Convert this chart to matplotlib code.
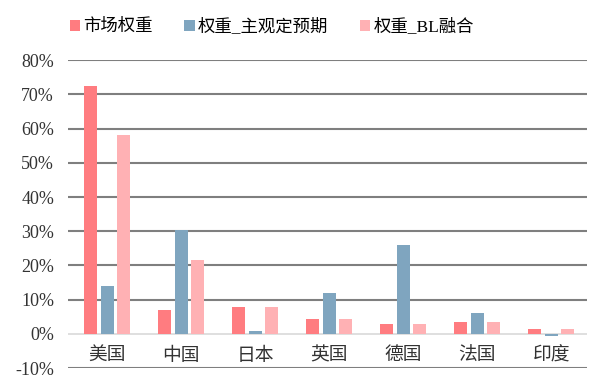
import matplotlib.pyplot as plt
import numpy as np

plt.rcParams['font.family'] = ['Liberation Serif', 'Noto Sans CJK SC']

countries = ['美国', '中国', '日本', '英国', '德国', '法国', '印度']
series_names = ['市场权重', '权重_主观定预期', '权重_BL融合']
market_w = [72.5, 7.0, 8.0, 4.5, 3.0, 3.5, 1.5]
view_w = [14.0, 30.5, 1.0, 12.0, 26.0, 6.0, -0.5]
bl_w = [58.0, 21.5, 8.0, 4.5, 3.0, 3.5, 1.5]
yticks = [-10, 0, 10, 20, 30, 40, 50, 60, 70, 80]

colors = ['#FF7C80', '#7FA5BF', '#FFB1B4']

fig = plt.figure(figsize=(5.91, 3.78), dpi=100)
ax = fig.add_axes([0.115, 0.026, 0.878, 0.815])

x = np.arange(len(countries))
width = 0.175
step = 0.223
for i, (vals, c, name) in enumerate(zip([market_w, view_w, bl_w], colors, series_names)):
    ax.bar(x + (i - 1) * step, vals, width, color=c, label=name, zorder=3)

# gridlines
for t in yticks:
    if t == 0:
        ax.axhline(t, color='#D9D9D9', lw=1.2, zorder=2)
    else:
        ax.axhline(t, color='#7F7F7F', lw=1.5, zorder=1)

ax.set_xlim(-0.53, 6.48)
ax.set_ylim(-10, 80)
ax.set_yticks(yticks)
ax.set_yticklabels([f'{t}%' for t in yticks], fontsize=13, color='#333333')
ax.set_xticks(x)
ax.set_xticklabels(countries, fontsize=13.5, color='#333333')
ax.tick_params(axis='x', length=0, pad=-15)
ax.tick_params(axis='y', length=0, pad=10)
for s in ax.spines.values():
    s.set_visible(False)

fig.legend(loc='upper center', bbox_to_anchor=(0.46, 0.993), ncol=3, frameon=False,
           fontsize=12.5, handlelength=0.6, handleheight=0.6, handletextpad=0.2,
           columnspacing=1.8)

fig.savefig('out.png', dpi=100)
